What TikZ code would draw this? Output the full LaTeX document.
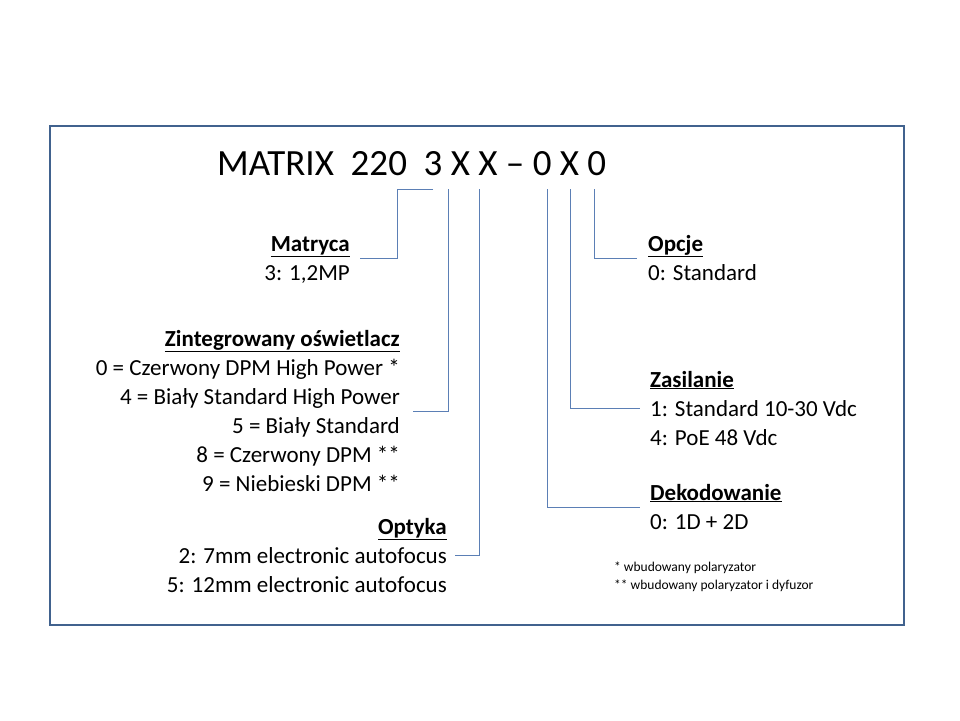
\documentclass[tikz,border=0pt]{standalone}
\usepackage{fontspec}
\setmainfont{Carlito}
\definecolor{framec}{HTML}{41628E}
\definecolor{linec}{HTML}{5B7FB5}
\begin{document}
\begin{tikzpicture}[x=1pt,y=-1pt]
\tikzset{
  txt/.style={inner sep=0pt, font=\fontsize{23}{29}\selectfont},
  lbl/.style={txt, anchor=base east, align=right},
  rlbl/.style={txt, anchor=base west, align=left},
  conn/.style={draw=linec, line width=0.8pt}
}
\useasboundingbox (0,0) rectangle (960,720);
\draw[draw=framec, line width=1.6pt] (50,126) rectangle (904,625);
\node[inner sep=0pt, anchor=base west, font=\fontsize{37}{40}\selectfont] (title) at (217,175) {MATRIX\ \ 220\ \ 3 X X -- 0 X 0};
% labels on the left
\node[lbl] (matryca) at (350,280) {\underline{\textbf{Matryca}}\\3: 1,2MP};
\node[lbl] (oswietl) at (400,491) {\underline{\textbf{Zintegrowany oświetlacz}}\\0 = Czerwony DPM High Power *\\4 = Biały Standard High Power\\5 = Biały Standard\\8 = Czerwony DPM **\\9 = Niebieski DPM **};
\node[lbl] (optyka) at (447,592) {\underline{\textbf{Optyka}}\\2: 7mm electronic autofocus\\5: 12mm electronic autofocus};
% labels on the right
\node[rlbl] (opcje) at (648,280) {\underline{\textbf{Opcje}}\\0: Standard};
\node[rlbl] (zasil) at (650,445) {\underline{\textbf{Zasilanie}}\\1: Standard 10-30 Vdc\\4: PoE 48 Vdc};
\node[rlbl] (dekod) at (650,529) {\underline{\textbf{Dekodowanie}}\\0: 1D + 2D};
\node[inner sep=0pt, anchor=base west, align=left, font=\fontsize{13.5}{18}\selectfont] (notes) at (614,589) {* wbudowany polaryzator\\** wbudowany polaryzator i dyfuzor};
% connector ends
\coordinate (m1) at (433,189);
\coordinate (m2) at (360,258);
\coordinate (o1) at (448,189);
\coordinate (o2) at (413,411);
\coordinate (p1) at (479,189);
\coordinate (p2) at (455,555);
\coordinate (d1) at (547,189);
\coordinate (d2) at (640,507);
\coordinate (z1) at (570,189);
\coordinate (z2) at (640,408);
\coordinate (c1) at (594,189);
\coordinate (c2) at (637,258);
\draw[conn] (m1) -- (397,189) |- (m2);
\draw[conn] (o1) |- (o2);
\draw[conn] (p1) |- (p2);
\draw[conn] (d1) |- (d2);
\draw[conn] (z1) |- (z2);
\draw[conn] (c1) |- (c2);
\end{tikzpicture}
\end{document}
